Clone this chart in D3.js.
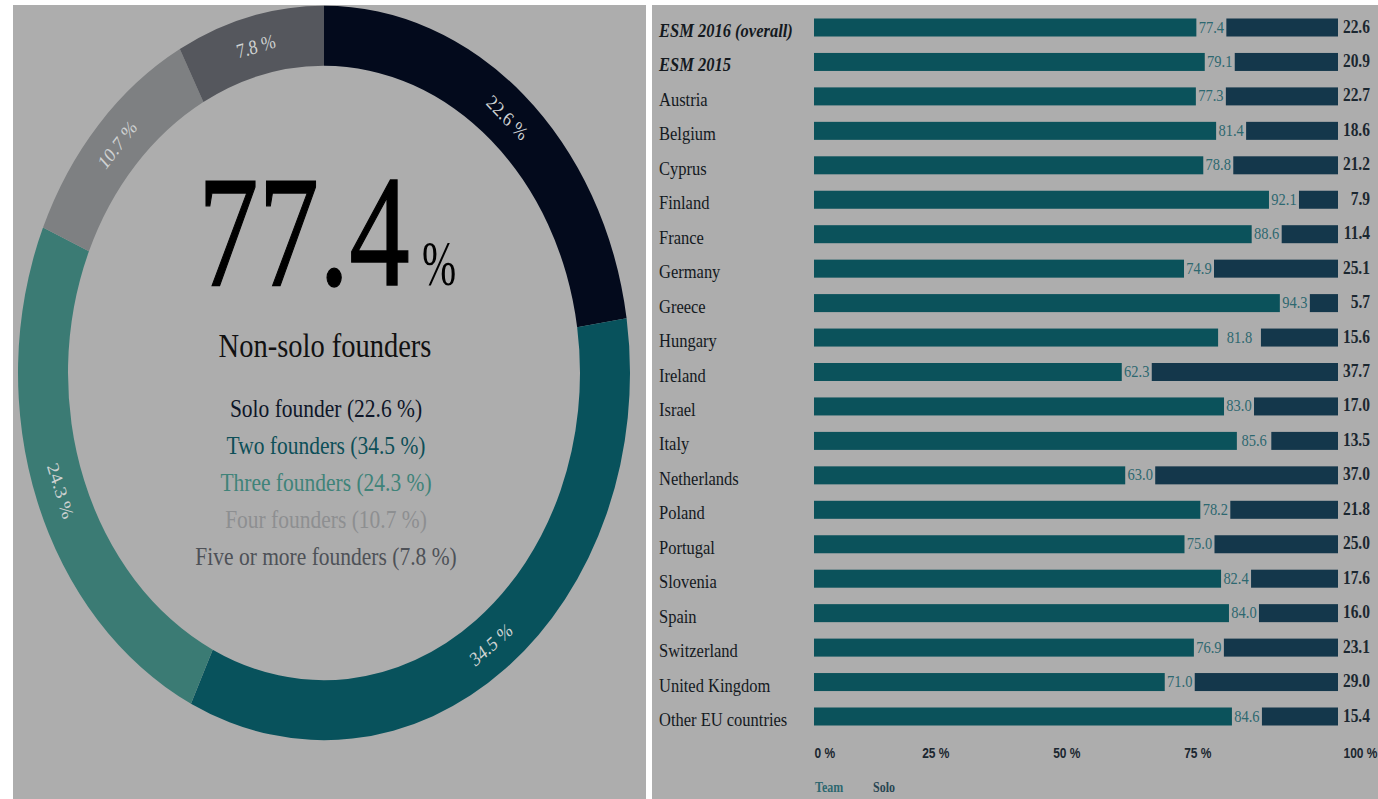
<!DOCTYPE html>
<html>
<head>
<meta charset="utf-8">
<script src="https://cdn.jsdelivr.net/npm/d3@7/dist/d3.min.js"></script>
<style>
  body { margin: 0; background: #fff; }
  svg { display: block; font-family: 'Liberation Serif', 'DejaVu Serif', serif; }
</style>
</head>
<body>
<div id="chart"></div>
<script>
'use strict'

// founders per startup (donut)
var founderTypes = ['Solo founder', 'Two founders', 'Three founders', 'Four founders', 'Five or more founders'];
var founderShares = [22.6, 34.5, 24.3, 10.7, 7.8];
var nonSoloShare = 77.4;
var nonSoloLabel = 'Non-solo founders';

// team vs solo founders per country
var countries = ['ESM 2016 (overall)', 'ESM 2015', 'Austria', 'Belgium', 'Cyprus', 'Finland', 'France',
  'Germany', 'Greece', 'Hungary', 'Ireland', 'Israel', 'Italy', 'Netherlands', 'Poland', 'Portugal',
  'Slovenia', 'Spain', 'Switzerland', 'United Kingdom', 'Other EU countries'];
var teamValues = [77.4, 79.1, 77.3, 81.4, 78.8, 92.1, 88.6, 74.9, 94.3, 81.8, 62.3, 83.0, 85.6, 63.0,
  78.2, 75.0, 82.4, 84.0, 76.9, 71.0, 84.6];
var soloValues = [22.6, 20.9, 22.7, 18.6, 21.2, 7.9, 11.4, 25.1, 5.7, 15.6, 37.7, 17.0, 13.5, 37.0,
  21.8, 25.0, 17.6, 16.0, 23.1, 29.0, 15.4];
var axisTicks = [0, 25, 50, 75, 100];
var seriesNames = ['Team', 'Solo'];

// DISPLAY SETTINGS
var WIDTH = 1378, HEIGHT = 799;
var STRETCH = 1.2; // the source picture is squashed taller than wide
var BG = '#adadad';
var DONUT_CX = 324, DONUT_CY = 373;
var OUTER_R = 306, INNER_R = 256;
var founderColors = ['#030a1c', '#08525c', '#3b7b74', '#7e8082', '#55575d'];
var founderTextColors = ['#0e1628', '#0d4f58', '#3f8379', '#8d8f91', '#4e5157'];

var BAR_LEFT = 814, BAR_RIGHT = 1338, BAR_SPAN = 494, BAR_H = 18;
var ROW_TOP = 27.5, ROW_BOTTOM = 716.5;
var TEAM_COLOR = '#0b525b', SOLO_COLOR = '#14374b';
var TEAM_TEXT = '#2d6870', SOLO_TEXT = '#1b2730';

var svg = d3.select('#chart').append('svg').attr('width', WIDTH).attr('height', HEIGHT);

// panel backgrounds
svg.append('rect').attr('x', 13).attr('y', 5).attr('width', 633).attr('height', HEIGHT - 5).attr('fill', BG);
svg.append('rect').attr('x', 652).attr('y', 5).attr('width', WIDTH - 652).attr('height', HEIGHT - 5).attr('fill', BG);

// ---------- DONUT ----------
var donut = svg.append('g')
  .attr('transform', 'translate(' + DONUT_CX + ',' + DONUT_CY + ') scale(1,' + STRETCH + ')');

var pie = d3.pie().sort(null).value(function (d) { return d; });
var arc = d3.arc().innerRadius(INNER_R).outerRadius(OUTER_R);
var slices = pie(founderShares);

donut.selectAll('path.slice')
  .data(slices)
  .enter()
  .append('path')
  .attr('class', 'slice')
  .attr('d', arc)
  .attr('fill', function (d, i) { return founderColors[i]; });

donut.selectAll('text.arc-label')
  .data(slices)
  .enter()
  .append('text')
  .attr('class', 'arc-label')
  .attr('transform', function (d) {
    var c = arc.centroid(d);
    var a = (d.startAngle + d.endAngle) / 2 * 180 / Math.PI;
    var rot = (a > 90 && a < 270) ? a - 180 : a;
    return 'translate(' + c[0] + ',' + c[1] + ') rotate(' + rot + ')';
  })
  .attr('text-anchor', 'middle')
  .attr('dy', '0.35em')
  .attr('font-size', 17)
  .attr('fill', '#cfd2d2')
  .text(function (d) { return d.data.toFixed(1) + ' %'; });

// big number in the middle (glyphs are narrow, so squeeze via a taller scale)
donut.append('text')
  .attr('transform', 'translate(' + (198 - DONUT_CX) + ',' + ((285 - DONUT_CY) / STRETCH) + ') scale(1,1.09)')
  .attr('font-size', 121)
  .attr('fill', '#000')
  .attr('stroke', '#000')
  .attr('stroke-width', 1)
  .text(nonSoloShare.toFixed(1));

donut.append('text')
  .attr('transform', 'translate(' + (422 - DONUT_CX) + ',' + ((285 - DONUT_CY) / STRETCH) + ') scale(1,1.3)')
  .attr('font-size', 41)
  .attr('fill', '#000')
  .text('%');

donut.append('text')
  .attr('x', 1)
  .attr('y', (357 - DONUT_CY) / STRETCH)
  .attr('text-anchor', 'middle')
  .attr('font-size', 28.5)
  .attr('fill', '#111')
  .text(nonSoloLabel);

donut.selectAll('text.legend')
  .data(founderTypes)
  .enter()
  .append('text')
  .attr('class', 'legend')
  .attr('x', 2)
  .attr('y', function (d, i) { return 36.7 + i * 30.8; })
  .attr('text-anchor', 'middle')
  .attr('font-size', 21.5)
  .attr('fill', function (d, i) { return founderTextColors[i]; })
  .text(function (d, i) { return d + ' (' + founderShares[i].toFixed(1) + ' %)'; });

// ---------- BARS ----------
var rows = countries.map(function (c, i) {
  return { name: c, team: teamValues[i], solo: soloValues[i], bold: i < 2 };
});

var x = d3.scaleLinear().domain([0, 100]).range([0, BAR_SPAN]);
var y = d3.scalePoint().domain(countries).range([ROW_TOP, ROW_BOTTOM]);

var row = svg.append('g').selectAll('g.row')
  .data(rows)
  .enter()
  .append('g')
  .attr('class', 'row')
  .attr('transform', function (d) { return 'translate(0,' + y(d.name) + ')'; });

row.append('text')
  .attr('transform', 'translate(659,9.5) scale(1,' + STRETCH + ')')
  .attr('font-size', 16.5)
  .attr('font-style', function (d) { return d.bold ? 'italic' : null; })
  .attr('font-weight', function (d) { return d.bold ? 'bold' : null; })
  .attr('fill', '#14191e')
  .text(function (d) { return d.name; });

row.append('rect')
  .attr('x', BAR_LEFT)
  .attr('y', -BAR_H / 2)
  .attr('width', function (d) { return x(d.team); })
  .attr('height', BAR_H)
  .attr('fill', TEAM_COLOR);

row.append('rect')
  .attr('x', function (d) { return BAR_RIGHT - x(d.solo); })
  .attr('y', -BAR_H / 2)
  .attr('width', function (d) { return x(d.solo); })
  .attr('height', BAR_H)
  .attr('fill', SOLO_COLOR);

// team value sits in the gap between the two bars
row.append('text')
  .attr('transform', function (d) {
    var mid = (BAR_LEFT + x(d.team) + BAR_RIGHT - x(d.solo)) / 2;
    return 'translate(' + mid + ',5) scale(1,' + STRETCH + ')';
  })
  .attr('text-anchor', 'middle')
  .attr('font-size', 14.5)
  .attr('fill', TEAM_TEXT)
  .text(function (d) { return d.team.toFixed(1); });

row.append('text')
  .attr('transform', 'translate(1370,5) scale(1,' + STRETCH + ')')
  .attr('text-anchor', 'end')
  .attr('font-size', 15.5)
  .attr('font-weight', 'bold')
  .attr('fill', SOLO_TEXT)
  .text(function (d) { return d.solo.toFixed(1); });

// axis
var axisScale = d3.scaleLinear().domain([0, 100]).range([BAR_LEFT, BAR_RIGHT]);
var axis = svg.append('g')
  .attr('transform', 'translate(0,758)')
  .call(d3.axisBottom(axisScale).tickValues(axisTicks).tickSize(0)
    .tickFormat(function (d) { return d + ' %'; }));
axis.select('.domain').remove();
axis.selectAll('text')
  .attr('y', 0)
  .attr('dy', 0)
  .attr('transform', 'scale(1,' + STRETCH + ')')
  .attr('font-family', null)
  .attr('font-size', 12)
  .attr('font-weight', 'bold')
  .attr('fill', SOLO_TEXT)
  .attr('text-anchor', function (d, i) { return (i === 0 || i === axisTicks.length - 1) ? 'start' : 'end'; })
  .attr('dx', function (d, i) { return i === 0 ? 0 : (i === axisTicks.length - 1 ? 5 : 4); });

// legend
svg.selectAll('text.series')
  .data(seriesNames)
  .enter()
  .append('text')
  .attr('class', 'series')
  .attr('transform', function (d, i) { return 'translate(' + (815 + i * 58) + ',792) scale(1,' + STRETCH + ')'; })
  .attr('font-size', 12)
  .attr('font-weight', 'bold')
  .attr('fill', function (d, i) { return i === 0 ? TEAM_TEXT : '#284552'; })
  .text(function (d) { return d; });
</script>
</body>
</html>
